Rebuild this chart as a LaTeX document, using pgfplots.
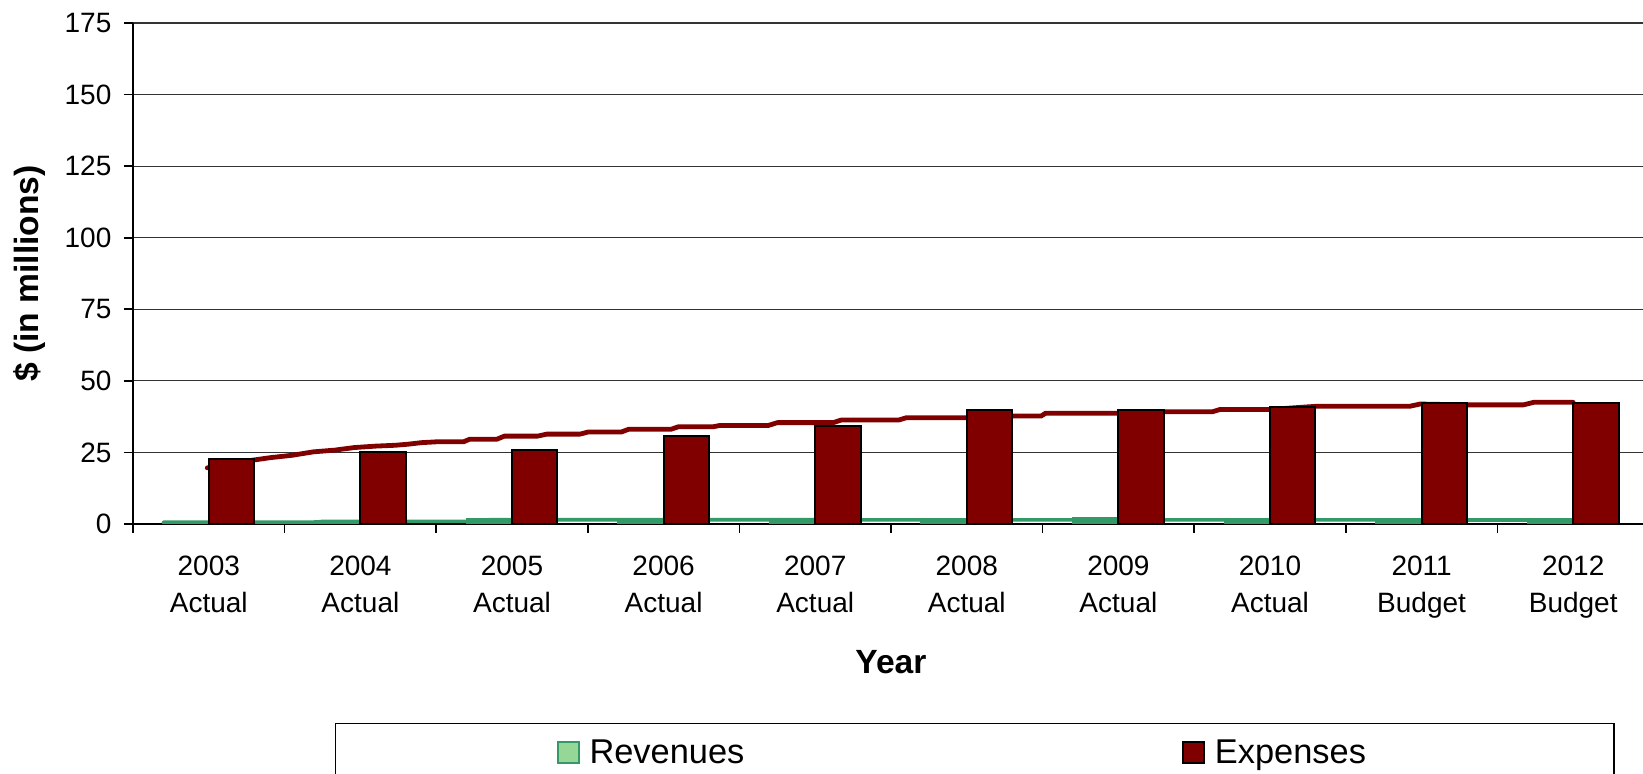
\documentclass[border=0pt]{standalone}
\usepackage{pgfplots}
\pgfplotsset{compat=1.18}
\usepackage{pgfplotstable}
\usepackage{fontspec}
\setmainfont{Liberation Sans}
\definecolor{expfill}{RGB}{128,0,0}
\definecolor{revfill}{RGB}{150,214,150}
\definecolor{revline}{RGB}{51,153,102}

\pgfplotstableread{
x rev exp
0 0.6 22.7
1 1.0 25.2
2 1.6 25.8
3 1.4 30.6
4 1.5 34.4
5 1.4 39.9
6 2.2 39.9
7 1.4 40.7
8 1.4 42.4
9 1.4 42.3
}\bars

\begin{document}
\begin{tikzpicture}
\begin{axis}[
  name=ax,
  scale only axis,
  width=758pt, height=250.5pt,
  xmin=-0.5, xmax=9.5, ymin=0, ymax=175,
  axis x line*=bottom, axis y line*=left,
  axis line style={-, line width=1pt, black},
  ytick={0,25,...,175},
  ymajorgrids,
  grid style={black!80, line width=0.6pt},
  xtick={-0.5,0.5,...,9.5},
  x tick label as interval,
  xticklabels={{2003\\Actual},{2004\\Actual},{2005\\Actual},{2006\\Actual},{2007\\Actual},{2008\\Actual},{2009\\Actual},{2010\\Actual},{2011\\Budget},{2012\\Budget},{}},
  tick align=outside,
  major tick length=4.5pt,
  tick style={black, line width=0.8pt},
  /pgf/number format/assume math mode=true,
  ticklabel style={font=\fontsize{14}{18.7}\selectfont},
  xticklabel style={align=center, anchor=north, inner sep=0pt, yshift=-11.1pt},
  yticklabel style={anchor=east, inner sep=0pt, xshift=-6.1pt},
  xlabel={Year},
  ylabel={\$ (in millions)},
  label style={font=\fontsize{16.8}{19}\selectfont\bfseries},
  xlabel style={at={(axis description cs:0.5,0)}, anchor=base, yshift=-74.7pt},
  ylabel style={at={(axis description cs:0,0.5)}, anchor=center, yshift=51.5pt},
  legend columns=2,
  legend style={at={(0.1332,-0.3968)}, anchor=north west, draw=black, line width=0.6pt,
    inner xsep=110.5pt, inner ysep=6pt,
    font=\fontsize{17.2}{19}\selectfont,
    /tikz/every even column/.append style={column sep=216.2pt}},
]
\addplot[forget plot, revline, line width=1.8pt, line join=round, line cap=round] coordinates {
(-0.3,0.6) (0.7,0.6) (0.75,0.9) (1.8,0.9) (1.85,1.5) (9.0,1.4)};
\addplot[forget plot, expfill, line width=2.4pt, line join=round, line cap=round] coordinates {
(-0.01,19.6) (0.29,22.3) (0.41,23.2) (0.55,24.0) (0.69,25.2) (0.83,25.8) (0.96,26.7)
(1.10,27.2) (1.23,27.5) (1.32,27.9) (1.40,28.4) (1.50,28.7) (1.68,28.7) (1.72,29.6)
(1.90,29.6) (1.95,30.7) (2.17,30.7) (2.23,31.4) (2.45,31.4) (2.50,32.1) (2.72,32.1)
(2.77,33.1) (3.05,33.1) (3.10,34.0) (3.33,34.0) (3.37,34.4) (3.69,34.4) (3.75,35.4)
(4.12,35.4) (4.17,36.3) (4.55,36.3) (4.60,37.1) (5.01,37.1) (5.29,37.7) (5.49,37.7)
(5.52,38.7) (5.99,38.7) (6.30,39.2) (6.62,39.2) (6.67,40.0) (7.00,40.0) (7.30,41.1)
(7.92,41.1) (7.99,41.9) (8.30,41.6) (8.67,41.6) (8.74,42.5) (9.00,42.5)};
\addplot[ybar, bar width=22.7pt, bar shift=-11.35pt, fill=revline, draw=revline, line width=1pt,
  legend image code/.code={\draw[fill=revfill, draw=revline, line width=1pt] (0pt,-5.25pt) rectangle (10.5pt,5.25pt);}]
  table[x=x, y=rev] {\bars};
\addlegendentry{\makebox[81pt][l]{\hspace{3pt}Revenues}}
\addplot[ybar, bar width=22.7pt, bar shift=11.35pt, fill=expfill, draw=black, line width=1pt,
  legend image code/.code={\draw[fill=expfill, draw=black, line width=1pt] (0pt,-5.25pt) rectangle (10.5pt,5.25pt);}]
  table[x=x, y=exp] {\bars};
\addlegendentry{\makebox[90pt][l]{\hspace{3pt}Expenses}}
\end{axis}
\pgfresetboundingbox
\path[use as bounding box] ([xshift=-66.5pt,yshift=-125pt]ax.south west) rectangle ([xshift=755pt,yshift=262pt]ax.south west);
\end{tikzpicture}
\end{document}
